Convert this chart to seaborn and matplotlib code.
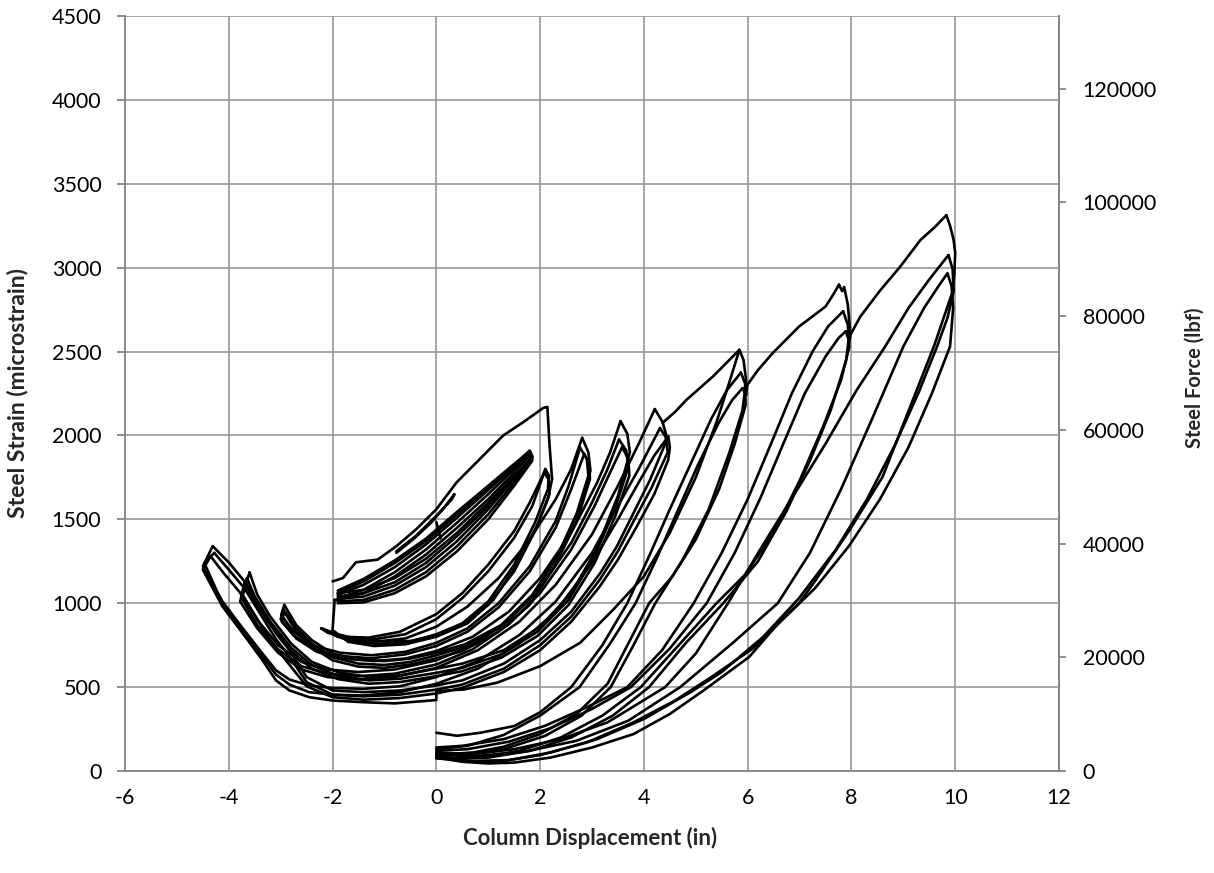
import matplotlib
matplotlib.use("Agg")
import matplotlib.pyplot as plt
import pandas as pd
import seaborn as sns

# ---------------- data ----------------
x_ticks = [-6, -4, -2, 0, 2, 4, 6, 8, 10, 12]
y_ticks = [0, 500, 1000, 1500, 2000, 2500, 3000, 3500, 4000, 4500]
force_ticks = [0, 20000, 40000, 60000, 80000, 100000, 120000]
force_per_microstrain = 29.5

# first loading above the dense band with strain drop at x=2.2
top_x = [-2.0, -1.8, -1.55, -1.13, -0.77, -0.39, 0.0, 0.39, 0.84, 1.29, 1.68, 2.06, 2.14, 2.18, 2.23]
top_y = [1130, 1150, 1244, 1260, 1340, 1440, 1560, 1720, 1860, 2000, 2080, 2164, 2170, 1950, 1740]
vert_x = [-2.0, -1.98, -1.96]
vert_y = [840, 930, 1020]
# dense band of small cycles
band1_x = [-1.96, -1.9, -1.4, -0.8, -0.2, 0.4, 1.0, 1.5, 1.8, 1.85, 1.5, 1.0, 0.4, -0.2, -0.8, -1.4, -1.9]
band1_y = [1020, 1020, 1060, 1160, 1290, 1450, 1620, 1780, 1880, 1850, 1700, 1500, 1310, 1160, 1060, 1005, 1000]
band2_x = [-1.9, -1.4, -0.8, -0.2, 0.4, 1.0, 1.5, 1.8, 1.85, 1.5, 1.0, 0.4, -0.2, -0.8, -1.4, -1.9]
band2_y = [1030, 1080, 1185, 1320, 1480, 1650, 1800, 1900, 1860, 1720, 1530, 1340, 1185, 1080, 1020, 1010]
band3_y = [1050, 1110, 1215, 1350, 1510, 1675, 1815, 1905, 1870, 1740, 1560, 1370, 1215, 1105, 1040, 1025]
band4_y = [1060, 1130, 1240, 1370, 1530, 1690, 1825, 1910, 1875, 1750, 1580, 1400, 1240, 1125, 1060, 1040]
band5_y = [1075, 1145, 1255, 1385, 1545, 1700, 1830, 1905, 1870, 1760, 1600, 1420, 1265, 1150, 1080, 1060]
stroke_x = [-0.77, -0.45, -0.1, 0.15, 0.35, 0.3, 0.0, -0.4, -0.77]
stroke_y = [1300, 1380, 1480, 1570, 1650, 1620, 1520, 1400, 1310]
tick_x = [0.0, 0.08]
tick_y = [1484, 1386]

# +/-2 in cycles
a2_1d_x = [2.23, 2.15, 1.9, 1.5, 1.0, 0.5, 0.0, -0.5, -1.0, -1.5, -1.9, -2.22]
a2_1d_y = [1740, 1620, 1430, 1190, 990, 870, 810, 775, 770, 785, 815, 850]
a2_1u_x = [-2.22, -2.1, -1.8, -1.3, -0.7, 0.0, 0.5, 1.0, 1.5, 1.8, 2.05, 2.1]
a2_1u_y = [850, 825, 800, 795, 830, 935, 1060, 1230, 1430, 1600, 1760, 1800]
a2_2d_x = [2.1, 2.17, 2.15, 1.9, 1.5, 1.0, 0.5, 0.0, -0.5, -1.0, -1.5, -1.9, -2.15]
a2_2d_y = [1800, 1760, 1680, 1480, 1230, 1010, 880, 815, 770, 755, 765, 800, 840]
a2_2u_x = [-2.15, -2.0, -1.7, -1.2, -0.6, 0.0, 0.5, 1.0, 1.5, 1.85, 2.08]
a2_2u_y = [840, 815, 790, 785, 815, 905, 1030, 1190, 1390, 1580, 1780]
a2_3d_x = [2.08, 2.16, 2.18, 1.95, 1.55, 1.1, 0.6, 0.0, -0.6, -1.2, -1.7, -2.0]
a2_3d_y = [1780, 1740, 1650, 1470, 1230, 1020, 880, 800, 755, 745, 770, 840]
a2_3u_x = [-2.2, -2.0, -1.7, -1.2, -0.6, 0.0, 0.6, 1.2, 1.8, 2.3, 2.6, 2.81]
a2_3u_y = [850, 815, 780, 770, 790, 860, 980, 1150, 1380, 1620, 1800, 1986]

# +/-2.9 in cycles
a29_1d_x = [2.81, 2.93, 2.97, 2.75, 2.35, 1.85, 1.25, 0.55, 0.0, -0.5, -1.0, -1.5, -2.0, -2.4, -2.7, -2.93]
a29_1d_y = [1986, 1900, 1790, 1560, 1290, 1050, 870, 755, 705, 670, 655, 665, 700, 780, 870, 990]
a29_1u_x = [-2.93, -2.99, -2.75, -2.35, -1.85, -1.25, -0.6, 0.0, 0.6, 1.2, 1.8, 2.3, 2.55, 2.77]
a29_1u_y = [990, 930, 830, 745, 705, 690, 710, 764, 850, 1000, 1220, 1490, 1700, 1927]
a29_2d_x = [2.77, 2.9, 2.93, 2.7, 2.3, 1.8, 1.2, 0.5, 0.0, -0.5, -1.0, -1.5, -2.0, -2.4, -2.7, -2.95]
a29_2d_y = [1927, 1860, 1760, 1530, 1260, 1020, 850, 735, 690, 650, 632, 640, 678, 760, 850, 965]
a29_2u_x = [-2.95, -3.0, -2.75, -2.35, -1.85, -1.25, -0.6, 0.0, 0.6, 1.2, 1.8, 2.3, 2.6, 2.85]
a29_2u_y = [965, 905, 810, 725, 685, 672, 695, 745, 830, 975, 1190, 1450, 1680, 1890]
a29_3d_x = [2.85, 2.95, 2.96, 2.72, 2.3, 1.8, 1.2, 0.5, 0.0, -0.5, -1.0, -1.5, -2.0, -2.4, -2.7, -2.93]
a29_3d_y = [1890, 1830, 1740, 1500, 1230, 990, 830, 715, 672, 635, 615, 622, 660, 740, 830, 950]
a29_3u_x = [-2.93, -2.98, -2.7, -2.3, -1.8, -1.2, -0.6, 0.0, 0.7, 1.4, 2.0, 2.6, 3.1, 3.35, 3.55]
a29_3u_y = [950, 890, 790, 710, 670, 655, 670, 715, 800, 950, 1150, 1420, 1720, 1900, 2085]

# +/-3.6 in cycles
a36_1d_x = [3.55, 3.68, 3.73, 3.5, 3.1, 2.6, 2.0, 1.3, 0.5, 0.0, -0.7, -1.3, -1.9, -2.4, -2.8, -3.2, -3.45, -3.6]
a36_1d_y = [2085, 2010, 1900, 1640, 1330, 1060, 860, 720, 640, 610, 570, 560, 590, 650, 760, 920, 1050, 1184]
a36_1u_x = [-3.6, -3.73, -3.45, -3.05, -2.6, -2.1, -1.5, -0.8, 0.0, 0.7, 1.4, 2.0, 2.6, 3.0, 3.3, 3.52]
a36_1u_y = [1184, 1050, 900, 750, 650, 605, 590, 605, 660, 750, 900, 1090, 1360, 1600, 1800, 1976]
a36_2d_x = [3.52, 3.66, 3.7, 3.45, 3.05, 2.55, 1.95, 1.25, 0.5, 0.0, -0.7, -1.3, -1.9, -2.4, -2.8, -3.2, -3.5, -3.65]
a36_2d_y = [1976, 1910, 1810, 1570, 1280, 1020, 830, 695, 615, 585, 550, 540, 568, 630, 735, 890, 1040, 1150]
a36_2u_x = [-3.65, -3.75, -3.45, -3.05, -2.6, -2.1, -1.5, -0.8, 0.0, 0.7, 1.4, 2.0, 2.6, 3.05, 3.35, 3.58]
a36_2u_y = [1150, 1030, 870, 725, 625, 580, 565, 580, 635, 725, 875, 1060, 1320, 1580, 1780, 1930]
a36_3d_x = [3.58, 3.7, 3.72, 3.45, 3.05, 2.55, 1.95, 1.25, 0.5, 0.0, -0.7, -1.3, -1.9, -2.4, -2.8, -3.2, -3.5, -3.7]
a36_3d_y = [1930, 1860, 1760, 1520, 1240, 990, 805, 675, 595, 565, 530, 520, 548, 610, 715, 870, 1010, 1120]
a36_3u_x = [-3.7, -3.78, -3.45, -3.05, -2.6, -2.1, -1.5, -0.8, 0.0, 0.8, 1.6, 2.3, 3.0, 3.5, 3.9, 4.21]
a36_3u_y = [1120, 1010, 850, 705, 605, 560, 545, 560, 615, 720, 890, 1110, 1410, 1700, 1950, 2157]

# +/-4.4 in cycles
a44_1d_x = [4.21, 4.36, 4.45, 4.12, 3.80, 3.48, 3.16, 2.6, 2.0, 1.3, 0.5, 0.0, -0.7, -1.4, -2.0, -2.5, -2.83, -3.09, -3.35, -3.67, -3.99, -4.31]
a44_1d_y = [2157, 2080, 1980, 1736, 1538, 1339, 1180, 950, 780, 640, 540, 510, 480, 470, 480, 560, 720, 820, 960, 1120, 1240, 1340]
a44_1u_x = [-4.31, -4.5, -4.12, -3.73, -3.35, -3.09, -2.83, -2.45, -2.0, -1.4, -0.7, 0.0, 0.8, 1.6, 2.3, 3.0, 3.5, 3.9, 4.31]
a44_1u_y = [1340, 1220, 1010, 850, 700, 600, 545, 510, 495, 490, 505, 560, 655, 810, 1010, 1300, 1580, 1800, 2044]
a44_2d_x = [4.31, 4.42, 4.46, 4.15, 3.82, 3.5, 3.15, 2.6, 2.0, 1.3, 0.5, 0.0, -0.7, -1.4, -2.0, -2.5, -2.85, -3.1, -3.4, -3.7, -4.0, -4.28]
a44_2d_y = [2044, 1990, 1900, 1690, 1500, 1310, 1140, 920, 750, 610, 515, 485, 455, 445, 455, 530, 690, 790, 940, 1090, 1200, 1300]
a44_2u_x = [-4.28, -4.47, -4.12, -3.73, -3.35, -3.09, -2.83, -2.45, -2.0, -1.4, -0.7, 0.0, 0.8, 1.6, 2.3, 3.0, 3.5, 3.9, 4.2, 4.47]
a44_2u_y = [1300, 1240, 995, 835, 680, 575, 515, 470, 455, 450, 470, 520, 610, 760, 950, 1240, 1500, 1720, 1880, 1994]
a44_3d_x = [4.47, 4.5, 4.47, 4.2, 3.85, 3.5, 3.15, 2.6, 2.0, 1.3, 0.5, 0.0, -0.7, -1.4, -2.0, -2.5, -2.9, -3.2, -3.5, -3.8, -4.1, -4.35]
a44_3d_y = [1994, 1930, 1855, 1650, 1450, 1260, 1100, 890, 720, 590, 495, 462, 435, 425, 440, 505, 660, 780, 930, 1070, 1180, 1280]
a44_3u_x = [-4.35, -4.5, -4.12, -3.73, -3.35, -3.09, -2.83, -2.45, -2.0, -1.4, -0.8, 0.0, 0.0, 0.53, 1.17, 2.0, 2.77, 3.41, 4.0, 4.5, 5.0, 5.4, 5.65, 5.84]
a44_3u_y = [1280, 1200, 980, 820, 660, 540, 480, 440, 420, 410, 403, 423, 476, 486, 526, 625, 764, 962, 1160, 1420, 1750, 2080, 2320, 2510]
env6_x = [4.36, 4.6, 4.82, 5.33, 5.84]
env6_y = [2075, 2140, 2212, 2351, 2510]

# 0 -> 6 in cycles
b6_1d_x = [5.84, 5.92, 5.97, 5.9, 5.65, 5.25, 4.75, 4.22, 3.8, 3.36, 2.8, 2.1, 1.4, 0.8, 0.3, 0.0]
b6_1d_y = [2510, 2450, 2330, 2150, 1900, 1560, 1260, 1000, 750, 500, 330, 210, 140, 110, 100, 110]
b6_2u_x = [0.0, 0.4, 0.85, 1.5, 2.0, 2.6, 3.2, 3.68, 4.1, 4.5, 4.9, 5.3, 5.6, 5.87]
b6_2u_y = [228, 210, 228, 268, 350, 500, 750, 1000, 1280, 1560, 1830, 2100, 2270, 2375]
b6_2d_x = [5.87, 5.95, 5.96, 5.75, 5.45, 5.0, 4.55, 4.1, 3.7, 3.3, 2.7, 2.0, 1.3, 0.7, 0.2, 0.0]
b6_2d_y = [2375, 2310, 2180, 1950, 1680, 1380, 1160, 1000, 760, 520, 340, 220, 145, 110, 100, 105]
b6_3u_x = [0.0, 0.6, 1.3, 2.0, 2.76, 3.35, 3.84, 4.25, 4.65, 5.05, 5.45, 5.7, 5.9]
b6_3u_y = [130, 150, 215, 330, 500, 760, 1000, 1270, 1550, 1830, 2080, 2210, 2282]
env8_x = [5.9, 5.97, 5.99, 6.2, 6.48, 6.99, 7.5, 7.65, 7.76]
env8_y = [2282, 2240, 2300, 2390, 2490, 2649, 2768, 2840, 2899]

# 0 -> 8 in cycles
b8_1d_x = [7.76, 7.82, 7.86, 7.93, 7.97, 7.9, 7.6, 7.2, 6.75, 6.2, 5.53, 4.8, 4.1, 3.4, 2.6, 1.8, 1.0, 0.4, 0.0]
b8_1d_y = [2899, 2860, 2885, 2780, 2640, 2450, 2150, 1850, 1550, 1250, 1000, 760, 500, 330, 200, 120, 80, 75, 90]
b8_2u_x = [0.0, 0.5, 1.3, 2.1, 2.9, 3.68, 4.35, 4.96, 5.5, 6.0, 6.45, 6.85, 7.25, 7.55, 7.84]
b8_2u_y = [140, 150, 190, 270, 380, 500, 720, 1000, 1300, 1620, 1950, 2250, 2500, 2650, 2740]
b8_2d_x = [7.84, 7.93, 7.96, 7.8, 7.45, 7.0, 6.5, 5.95, 5.4, 4.7, 3.94, 3.2, 2.4, 1.6, 0.9, 0.3, 0.0]
b8_2d_y = [2740, 2660, 2530, 2330, 2050, 1730, 1420, 1170, 1000, 760, 500, 330, 200, 120, 85, 80, 95]
b8_3u_x = [0.0, 0.6, 1.4, 2.2, 3.0, 3.75, 4.5, 5.21, 5.75, 6.25, 6.7, 7.1, 7.5, 7.75, 7.89]
b8_3u_y = [120, 130, 175, 255, 370, 500, 730, 1000, 1300, 1630, 1960, 2250, 2470, 2580, 2621]
env10_x = [7.89, 7.96, 7.98, 8.17, 8.56, 8.94, 9.33, 9.6, 9.83]
env10_y = [2621, 2560, 2600, 2708, 2867, 3006, 3165, 3240, 3313]

# 0 -> 10 in cycles
b10_1d_x = [9.83, 9.9, 9.97, 10.0, 9.98, 9.94, 9.6, 9.24, 8.6, 7.96, 7.31, 6.99, 6.67, 6.03, 5.15, 4.5, 3.8, 3.0, 2.2, 1.5, 1.0, 0.5, 0.0]
b10_1d_y = [3313, 3250, 3165, 3085, 2950, 2849, 2540, 2256, 1753, 1434, 1137, 1000, 909, 680, 480, 340, 220, 140, 80, 50, 45, 55, 80]
b10_2u_x = [0.0, 0.7, 1.5, 2.4, 3.3, 4.41, 5.0, 5.62, 6.3, 6.9, 7.5, 8.1, 8.65, 9.1, 9.5, 9.87]
b10_2u_y = [110, 100, 130, 190, 290, 500, 700, 1000, 1350, 1650, 1950, 2270, 2530, 2760, 2930, 3075]
b10_2d_x = [9.87, 9.95, 9.97, 9.85, 9.65, 9.3, 8.85, 8.3, 7.7, 6.99, 6.3, 5.5, 4.9, 4.0, 3.1, 2.2, 1.4, 0.7, 0.0]
b10_2d_y = [3075, 2990, 2860, 2700, 2530, 2260, 1950, 1620, 1320, 1030, 800, 590, 470, 310, 190, 110, 65, 60, 75]
b10_3u_x = [0.0, 0.8, 1.7, 2.7, 3.7, 4.7, 5.7, 6.58, 7.2, 7.8, 8.4, 9.0, 9.4, 9.7, 9.85]
b10_3u_y = [100, 90, 115, 180, 300, 500, 760, 1000, 1300, 1680, 2100, 2530, 2760, 2900, 2966]
b10_3d_x = [9.85, 9.93, 9.96, 9.9, 9.55, 9.1, 8.55, 7.95, 7.3, 6.8, 6.1, 5.3, 4.6, 3.8, 2.9, 2.0, 1.2, 0.6, 0.0]
b10_3d_y = [2966, 2890, 2760, 2530, 2250, 1930, 1620, 1340, 1090, 940, 730, 560, 420, 290, 170, 95, 55, 60, 85]

band_x = band2_x
segments = [
    ("top", top_x, top_y), ("vert", vert_x, vert_y),
    ("band1", band1_x, band1_y), ("band2", band_x, band2_y), ("band3", band_x, band3_y),
    ("band4", band_x, band4_y), ("band5", band_x, band5_y),
    ("stroke", stroke_x, stroke_y), ("tick", tick_x, tick_y),
    ("a2_1d", a2_1d_x, a2_1d_y), ("a2_1u", a2_1u_x, a2_1u_y),
    ("a2_2d", a2_2d_x, a2_2d_y), ("a2_2u", a2_2u_x, a2_2u_y),
    ("a2_3d", a2_3d_x, a2_3d_y), ("a2_3u", a2_3u_x, a2_3u_y),
    ("a29_1d", a29_1d_x, a29_1d_y), ("a29_1u", a29_1u_x, a29_1u_y),
    ("a29_2d", a29_2d_x, a29_2d_y), ("a29_2u", a29_2u_x, a29_2u_y),
    ("a29_3d", a29_3d_x, a29_3d_y), ("a29_3u", a29_3u_x, a29_3u_y),
    ("a36_1d", a36_1d_x, a36_1d_y), ("a36_1u", a36_1u_x, a36_1u_y),
    ("a36_2d", a36_2d_x, a36_2d_y), ("a36_2u", a36_2u_x, a36_2u_y),
    ("a36_3d", a36_3d_x, a36_3d_y), ("a36_3u", a36_3u_x, a36_3u_y),
    ("a44_1d", a44_1d_x, a44_1d_y), ("a44_1u", a44_1u_x, a44_1u_y),
    ("a44_2d", a44_2d_x, a44_2d_y), ("a44_2u", a44_2u_x, a44_2u_y),
    ("a44_3d", a44_3d_x, a44_3d_y), ("a44_3u", a44_3u_x, a44_3u_y),
    ("env6", env6_x, env6_y),
    ("b6_1d", b6_1d_x, b6_1d_y), ("b6_2u", b6_2u_x, b6_2u_y),
    ("b6_2d", b6_2d_x, b6_2d_y), ("b6_3u", b6_3u_x, b6_3u_y), ("env8", env8_x, env8_y),
    ("b8_1d", b8_1d_x, b8_1d_y), ("b8_2u", b8_2u_x, b8_2u_y),
    ("b8_2d", b8_2d_x, b8_2d_y), ("b8_3u", b8_3u_x, b8_3u_y), ("env10", env10_x, env10_y),
    ("b10_1d", b10_1d_x, b10_1d_y), ("b10_2u", b10_2u_x, b10_2u_y),
    ("b10_2d", b10_2d_x, b10_2d_y), ("b10_3u", b10_3u_x, b10_3u_y),
    ("b10_3d", b10_3d_x, b10_3d_y),
]

# ---------------- plot ----------------
sns.set_theme(style="white")
plt.rcParams["font.family"] = ["Lato", "DejaVu Sans"]

fig = plt.figure(figsize=(12.14, 8.73), dpi=100)
ax = fig.add_axes([125 / 1214, 1 - 771 / 873, 934 / 1214, 755 / 873])

frames = [pd.DataFrame({"x": xs, "y": ys, "seg": name}) for name, xs, ys in segments]
df = pd.concat(frames, ignore_index=True)
sns.lineplot(data=df, x="x", y="y", units="seg", estimator=None, sort=False,
             color="black", linewidth=1.9, ax=ax, legend=False, zorder=3)

grid_c = "#a0a0a0"
ax.set_xlim(-6, 12)
ax.set_ylim(0, 4500)
ax.set_xticks(x_ticks)
ax.set_yticks(y_ticks)
ax.set_xticklabels([str(v) for v in x_ticks])
ax.set_yticklabels([str(v) for v in y_ticks])
ax.grid(True, color=grid_c, linewidth=1.3)
ax.set_axisbelow(True)
for s in ax.spines.values():
    s.set_color("#868686")
    s.set_linewidth(1.3)
ax.spines["top"].set_visible(False)
ax.tick_params(axis="both", which="major", direction="out", length=6, width=1.3,
               color="#868686", labelsize=15.5, labelcolor="black")
ax.tick_params(axis="y", pad=11)
ax.tick_params(axis="x", pad=6)
ax.set_xlabel("")
ax.set_ylabel("")

ax2 = ax.twinx()
ax2.set_ylim(0, 4500 * force_per_microstrain)
ax2.set_yticks(force_ticks)
ax2.set_yticklabels([str(v) for v in force_ticks])
for s in ax2.spines.values():
    s.set_visible(False)
ax2.spines["right"].set_visible(True)
ax2.spines["right"].set_color("#868686")
ax2.spines["right"].set_linewidth(1.3)
ax2.tick_params(axis="y", direction="out", length=5, width=1.3, color="#868686",
                labelsize=15.5, labelcolor="black", pad=12)
ax2.grid(False)

fig.text(590 / 1214, 1 - 838 / 873, "Column Displacement (in)", ha="center", va="center",
         fontsize=16, fontweight="bold")
fig.text(18 / 1214, 1 - 393 / 873, "Steel Strain (microstrain)", ha="center", va="center",
         rotation=90, fontsize=16.5, fontweight="bold")
fig.text(1195 / 1214, 1 - 378 / 873, "Steel Force (lbf)", ha="center", va="center",
         rotation=90, fontsize=14.5, fontweight="bold")

fig.savefig("out.png", dpi=100)
